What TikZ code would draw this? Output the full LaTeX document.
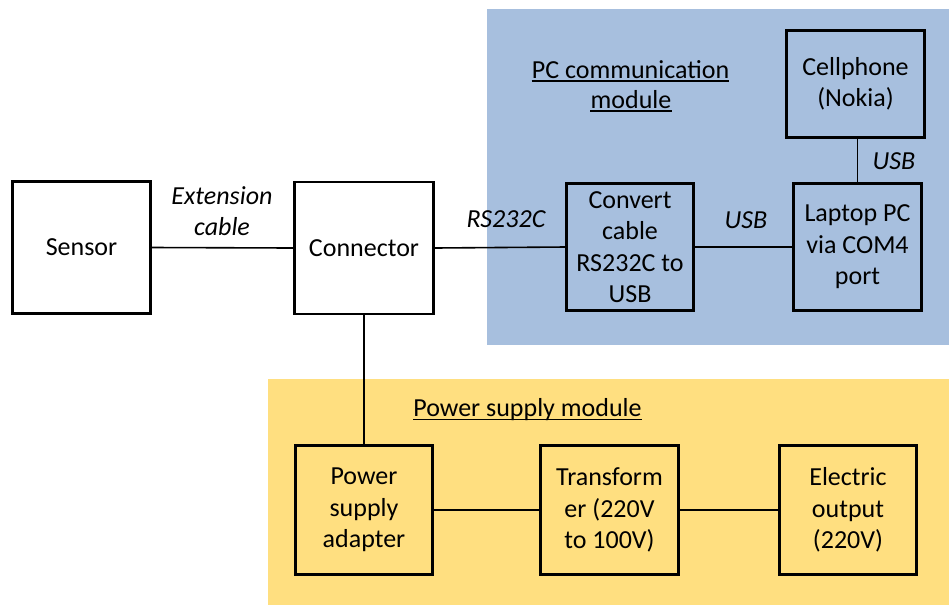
\documentclass[tikz,border=0pt]{standalone}
\usepackage{fontspec}
\setmainfont{Carlito}
\definecolor{pcblue}{RGB}{167,191,222}
\definecolor{pwyellow}{RGB}{255,223,128}
\begin{document}
\begin{tikzpicture}[x=1pt,y=-1pt,
  every node/.style={font=\fontsize{26}{31.5}\selectfont, inner sep=0pt},
  blk/.style={draw=black, line width=2.6pt, align=center, minimum height=132pt, minimum width=140pt},
  wire/.style={draw=black, line width=1.6pt},
  lbl/.style={font=\fontsize{26}{31.5}\selectfont\itshape, align=center},
  ttl/.style={anchor=base, align=center}]
\useasboundingbox (0,0) rectangle (949,606);
\fill[white] (0,0) rectangle (949,606);
% regions
\fill[pcblue] (487,9) rectangle (949,345);
\fill[pwyellow] (268,379) rectangle (949,605);
% boxes
\node[blk, fill=white, minimum width=138pt] (sensor) at (81.5,247.5) {Sensor};
\node[blk, fill=white, minimum width=139pt] (conn) at (364,248) {Connector};
\node[blk, fill=pcblue, minimum width=127pt, minimum height=127pt] (conv) at (630,247) {Convert\\cable\\RS232C to\\USB};
\node[blk, fill=pcblue, minimum width=128pt, minimum height=127pt] (laptop) at (857.5,247) {Laptop PC\\via COM4\\port};
\node[blk, fill=pcblue, minimum width=138pt, minimum height=107pt] (cell) at (855.5,84) {Cellphone\\(Nokia)};
\node[blk, fill=pwyellow, minimum width=137pt, minimum height=129pt] (power) at (364,510) {Power\\supply\\adapter};
\node[blk, fill=pwyellow, minimum width=138pt, minimum height=129pt] (trans) at (609.5,510) {Transform\\er (220V\\to 100V)};
\node[blk, fill=pwyellow, minimum width=137pt, minimum height=129pt] (elec) at (848,510) {Electric\\output\\(220V)};
% connectors
\draw[wire] (sensor.east) -- (conn.west);
\draw[wire] (conn.east) -- (conv.west);
\draw[wire] (conv.east) -- (laptop.west);
\draw[wire] (laptop.north) -- (laptop.north |- cell.south);
\draw[line width=2.6pt] (conn.south) -- (power.north);
\draw[wire] (power.east) -- (trans.west);
\draw[wire] (trans.east) -- (elec.west);
% connector labels
\node[lbl] (ext) at (222,211) {Extension\\cable};
\node[lbl] (rs) at (506,219) {RS232C};
\node[lbl] (usb1) at (746,220) {USB};
\node[lbl] (usb2) at (894,161) {USB};
% region titles
\node[ttl] (pc1) at (630.5,78) {PC communication};
\node[ttl] (pc2) at (631,108) {module};
\node[ttl] (pw) at (527.5,416) {Power supply module};
\draw[line width=1.3pt] ([yshift=-3pt]pc1.base west) -- ([yshift=-3pt]pc1.base east);
\draw[line width=1.3pt] ([yshift=-3pt]pc2.base west) -- ([yshift=-3pt]pc2.base east);
\draw[line width=1.3pt] ([yshift=-3.5pt]pw.base west) -- ([yshift=-3.5pt]pw.base east);
\end{tikzpicture}
\end{document}
